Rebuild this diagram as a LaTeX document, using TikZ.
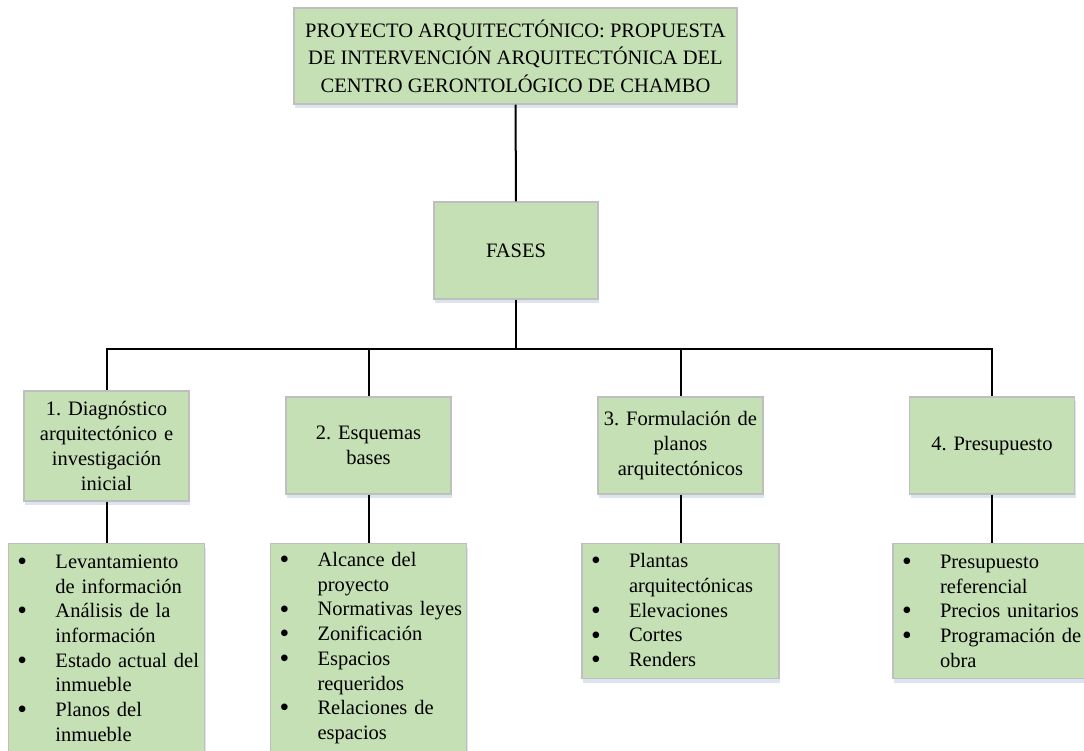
\documentclass[tikz,border=0pt]{standalone}
\usepackage{fontspec}
\setmainfont{Liberation Serif}
\usepackage{xcolor}
\usepackage{graphicx}
\usepackage{tikz}
\usetikzlibrary{positioning, shadows}

\definecolor{boxgreen}{HTML}{C5E0B4}
\definecolor{boxedge}{HTML}{BFBFBF}
\definecolor{shadowblue}{HTML}{DCE4F0}

\frenchspacing
\newcommand{\itm}[1]{\hspace*{9pt}\makebox[38pt][l]{\raisebox{-2.2pt}{\scalebox{1.35}{\textbullet}}}#1}
\newcommand{\cnt}[1]{\hspace*{47pt}#1}

\begin{document}
\begin{tikzpicture}[
    x=1pt, y=-1pt,
    box/.style={rectangle, draw=boxedge, line width=1.2pt, fill=boxgreen,
                drop shadow={shadow xshift=1pt, shadow yshift=-4pt, fill=shadowblue, opacity=1},
                align=center, inner sep=2pt,
                font=\fontsize{20.5}{24.7}\selectfont},
    phase/.style={box, minimum width=165pt, text width=160pt, minimum height=97pt},
    tasks/.style={box, text width=196pt, inner xsep=0pt, align=left, anchor=north},
    link/.style={line width=2pt, black}
  ]
  \useasboundingbox (0,0) rectangle (1084,751);

  % nodes
  \node[box, minimum width=443pt, minimum height=96pt,
        font=\fontsize{20.5}{27.6}\selectfont] (proy) at (515.5,56)
    {PROYECTO ARQUITECTÓNICO: PROPUESTA\\DE INTERVENCIÓN ARQUITECTÓNICA DEL\\CENTRO GERONTOLÓGICO DE CHAMBO};
  \node[box, minimum width=164pt, minimum height=97pt] (fases) at (516,250.5) {FASES};

  \node[phase, minimum height=110pt] (f1) at (106.5,446) {1. Diagnóstico\\arquitectónico e\\investigación\\inicial};
  \node[phase] (f2) at (368.5,445.5) {2. Esquemas\\bases};
  \node[phase] (f3) at (680.5,445.5) {3. Formulación de\\planos\\arquitectónicos};
  \node[phase] (f4) at (992,445.5) {4. Presupuesto};

  \node[tasks, minimum height=209pt] (l1) at (106.5,543)
    {\itm{Levantamiento}\\\cnt{de información}\\\itm{Análisis de la}\\\cnt{información}\\
     \itm{Estado actual del}\\\cnt{inmueble}\\\itm{Planos del}\\\cnt{inmueble}};
  \node[tasks, minimum height=209pt] (l2) at (368.5,543)
    {\itm{Alcance del}\\\cnt{proyecto}\\\itm{Normativas leyes}\\\itm{Zonificación}\\
     \itm{Espacios}\\\cnt{requeridos}\\\itm{Relaciones de}\\\cnt{espacios}};
  \node[tasks, minimum height=135pt, text width=197pt] (l3) at (680.5,543)
    {\itm{Plantas}\\\cnt{arquitectónicas}\\\itm{Elevaciones}\\\itm{Cortes}\\\itm{Renders}};
  \node[tasks, minimum height=135pt, text width=198pt] (l4) at (992,543)
    {\itm{Presupuesto}\\\cnt{referencial}\\\itm{Precios unitarios}\\\itm{Programación de}\\\cnt{obra}};

  % connectors
  \coordinate (bus) at (516,349);
  \draw[link] (proy) -- (fases);
  \draw[link] (fases) -- (bus);
  \draw[link] (bus) -| (f1);
  \draw[link] (bus) -| (f2);
  \draw[link] (bus) -| (f3);
  \draw[link] (bus) -| (f4);
  \draw[link] (f1) -- (l1);
  \draw[link] (f2) -- (l2);
  \draw[link] (f3) -- (l3);
  \draw[link] (f4) -- (l4);
\end{tikzpicture}
\end{document}
